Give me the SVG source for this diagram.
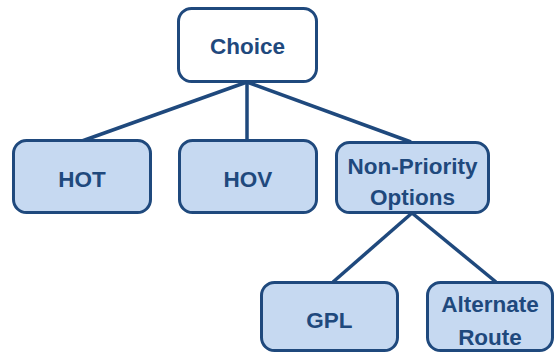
<svg xmlns="http://www.w3.org/2000/svg" width="555" height="354" viewBox="0 0 555 354">
<style>
.box{stroke:#1F497D;stroke-width:3;}
.top{fill:#FFFFFF;}
.sub{fill:#C6D9F1;}
.lbl{font-family:"Liberation Sans",Arial,sans-serif;font-weight:bold;font-size:22.5px;fill:#1F497D;text-anchor:middle;dominant-baseline:central;}
.conn{stroke:#1F497D;stroke-width:3.5;fill:none;}
</style>
<rect width="555" height="354" fill="#FFFFFF"/>
<g id="connectors">
<line class="conn" x1="247" y1="82" x2="82" y2="141"/>
<line class="conn" x1="247" y1="82" x2="247" y2="141"/>
<line class="conn" x1="247" y1="82" x2="411" y2="142"/>
<line class="conn" x1="412" y1="213" x2="333" y2="282"/>
<line class="conn" x1="412" y1="213" x2="496" y2="282"/>
</g>
<g id="choice">
<rect class="box top" x="178.5" y="8.5" width="138" height="73" rx="13"/>
<text class="lbl" x="247.5" y="46">Choice</text>
</g>
<g id="hot">
<rect class="box sub" x="13.5" y="140.5" width="137" height="72" rx="13"/>
<text class="lbl" x="82" y="179">HOT</text>
</g>
<g id="hov">
<rect class="box sub" x="179.5" y="140.5" width="137" height="72" rx="13"/>
<text class="lbl" x="248" y="179">HOV</text>
</g>
<g id="nonpriority">
<rect class="box sub" x="336.5" y="142.5" width="152" height="70" rx="13"/>
<text class="lbl" x="412.5" y="166">Non-Priority</text>
<text class="lbl" x="412.5" y="197">Options</text>
</g>
<g id="gpl">
<rect class="box sub" x="261.5" y="282.5" width="136" height="68" rx="13"/>
<text class="lbl" x="329.5" y="320">GPL</text>
</g>
<g id="alternate">
<rect class="box sub" x="427.5" y="282.5" width="125" height="68" rx="13"/>
<text class="lbl" x="490" y="304">Alternate</text>
<text class="lbl" x="490" y="337">Route</text>
</g>
</svg>
